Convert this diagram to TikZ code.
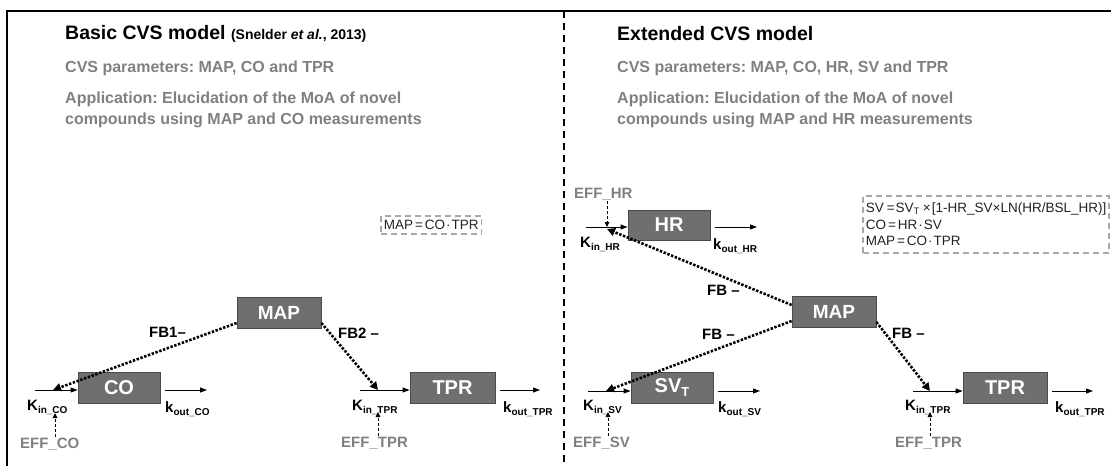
\documentclass[tikz,border=0pt]{standalone}
\usepackage{fontspec}
\setmainfont{Liberation Sans}
\usetikzlibrary{arrows.meta}
\definecolor{boxfill}{HTML}{6F6F6F}
\definecolor{boxline}{HTML}{4A4A4A}
\definecolor{softgray}{HTML}{808080}
\definecolor{framegray}{HTML}{A8A8A8}
\definecolor{eqtext}{HTML}{222222}
\newcommand{\fs}[1]{\fontsize{#1}{#1}\selectfont}
\newcommand{\lowsub}[1]{\raisebox{-3pt}{\fs{10}#1}}
\frenchspacing
\begin{document}
\begin{tikzpicture}[x=1pt,y=-1pt,
  block/.style={draw=boxline, line width=0.8pt, fill=boxfill, text=white,
    font=\bfseries\fs{20}, inner sep=0pt, minimum height=31pt},
  mapblock/.style={block, minimum width=84pt, font=\bfseries\fs{19}},
  flow/.style={-{Triangle[length=7pt,width=5pt]}, line width=0.9pt},
  fb/.style={line width=2.6pt, dash pattern=on 2.4pt off 1.6pt,
    -{Triangle[length=8pt,width=8pt]}},
  effarrow/.style={-{Triangle[length=5pt,width=4.5pt]}, line width=1pt,
    dash pattern=on 3pt off 2pt},
  lab/.style={font=\bfseries\fs{15}, inner sep=0pt, anchor=west},
  efflab/.style={lab, text=softgray},
  title/.style={font=\bfseries\fs{19.5}, inner sep=0pt, anchor=west},
  info/.style={font=\bfseries\fs{16}, text=softgray, inner sep=0pt, anchor=west},
  eqbox/.style={draw=framegray, line width=1.6pt, dash pattern=on 6pt off 4pt,
    anchor=north west, align=left, inner ysep=2pt, inner xsep=3pt, text=eqtext,
    font=\fontsize{13.5}{16.5}\selectfont}
]
\useasboundingbox (0,0) rectangle (1111,466);

% outer frame and panel divider
\draw[line width=1.4pt] (1111,11) -- (7,11) -- (7,466);
\draw[line width=1.4pt, dash pattern=on 7pt off 5pt] (564,11) -- (564,466);

% ---------------- headers ----------------
\node[title] (tL) at (65,34) {Basic CVS model {\fs{14}(Snelder \textit{et al.}, 2013)}};
\node[info] (pL) at (65,68) {CVS parameters: MAP, CO and TPR};
\node[info] (aL1) at (65,99) {Application: Elucidation of the MoA of novel};
\node[info] (aL2) at (65,120) {compounds using MAP and CO measurements};

\node[title] (tR) at (617,34) {Extended CVS model};
\node[info] (pR) at (617,68) {CVS parameters: MAP, CO, HR, SV and TPR};
\node[info] (aR1) at (617,99) {Application: Elucidation of the MoA of novel};
\node[info] (aR2) at (617,120) {compounds using MAP and HR measurements};

% ---------------- basic model ----------------
\node[eqbox, minimum height=18pt] (eqL) at (380,215) {MAP\kern2pt=\kern2ptCO\kern1pt·\kern1ptTPR};

\node[mapblock] (mapL) at (279,313) {MAP};
\node[block, minimum width=82pt] (co) at (119,388) {CO};
\node[block, minimum width=85pt] (tprL) at (452.5,388) {TPR};

% CO turnover
\coordinate (coIn) at (35,390);
\coordinate (coFB) at (53,390);
\coordinate (coOut) at (207,390);
\draw[flow] (coIn) -- (co.west |- coIn);
\draw[flow] (co.east |- coOut) ++(5,0) -- (coOut);
\node[lab] (coKin) at (27,407) {K\lowsub{in\_CO}};
\node[lab] (coKout) at (165,409) {k\lowsub{out\_CO}};
\node[efflab] (coEff) at (20,444) {EFF\_CO};
\coordinate (coEffTop) at (55,437);
\coordinate (coEffEnd) at (55,413);
\draw[effarrow] (coEffTop) -- (coEffEnd);

% TPR turnover
\coordinate (tprLIn) at (360,390);
\coordinate (tprLFB) at (378,390);
\coordinate (tprLOut) at (540,390);
\draw[flow] (tprLIn) -- (tprL.west |- tprLIn);
\draw[flow] (tprL.east |- tprLOut) ++(5,0) -- (tprLOut);
\node[lab] (tprLKin) at (352,407) {K\lowsub{in\_TPR}};
\node[lab] (tprLKout) at (503,409) {k\lowsub{out\_TPR}};
\node[efflab] (tprLEff) at (341,443) {EFF\_TPR};
\coordinate (tprLEffTop) at (378,436);
\coordinate (tprLEffEnd) at (378,412);
\draw[effarrow] (tprLEffTop) -- (tprLEffEnd);

% feedback from MAP
\draw[fb] ([yshift=-10pt]mapL.west) -- (coFB);
\draw[fb] ([yshift=-10pt]mapL.east) -- (tprLFB);
\node[lab] (fb1) at (149,332) {FB1–};
\node[lab] (fb2) at (338,333) {FB2 –};

% ---------------- extended model ----------------
\node[eqbox, text width=240pt, minimum height=57pt] (eqR) at (862,195)
  {\mbox{SV\kern3pt=\kern1ptSV\textsubscript{T}\kern3pt×\kern1pt[1-HR\_SV×LN(HR/BSL\_HR)]}\\
   CO\kern2pt=\kern2ptHR\kern1pt·\kern1ptSV\\
   MAP\kern2pt=\kern2ptCO\kern1pt·\kern1ptTPR};

\node[block, minimum width=82pt, minimum height=30pt] (hr) at (669,225) {HR};
\node[mapblock] (mapR) at (834,312) {MAP};
\node[block, minimum width=82pt] (svt) at (672,388) {SV\raisebox{-4pt}{\fs{13}T}};
\node[block, minimum width=84pt] (tprR) at (1005,388) {TPR};

% HR turnover
\coordinate (hrIn) at (586,227);
\coordinate (hrFB) at (607,229);
\coordinate (hrOut) at (757,227);
\draw[flow] (hrIn) -- (hr.west |- hrIn);
\draw[flow] (hr.east |- hrOut) ++(5,0) -- (hrOut);
\node[lab] (hrKin) at (580,244) {K\lowsub{in\_HR}};
\node[lab] (hrKout) at (713,246) {k\lowsub{out\_HR}};
\node[efflab] (hrEff) at (574,194) {EFF\_HR};
\coordinate (hrEffTop) at (607,201);
\coordinate (hrEffEnd) at (607,227);
\draw[effarrow] (hrEffTop) -- (hrEffEnd);

% SV turnover
\coordinate (svIn) at (588,391);
\coordinate (svFB) at (606,391);
\coordinate (svOut) at (760,391);
\draw[flow] (svIn) -- (svt.west |- svIn);
\draw[flow] (svt.east |- svOut) ++(5,0) -- (svOut);
\node[lab] (svKin) at (583,407) {K\lowsub{in\_SV}};
\node[lab] (svKout) at (718,409) {k\lowsub{out\_SV}};
\node[efflab] (svEff) at (573,443) {EFF\_SV};
\coordinate (svEffTop) at (608,436);
\coordinate (svEffEnd) at (608,412);
\draw[effarrow] (svEffTop) -- (svEffEnd);

% TPR turnover
\coordinate (tprRIn) at (913,391);
\coordinate (tprRFB) at (930,391);
\coordinate (tprROut) at (1093,391);
\draw[flow] (tprRIn) -- (tprR.west |- tprRIn);
\draw[flow] (tprR.east |- tprROut) ++(5,0) -- (tprROut);
\node[lab] (tprRKin) at (905,407) {K\lowsub{in\_TPR}};
\node[lab] (tprRKout) at (1055,409) {k\lowsub{out\_TPR}};
\node[efflab] (tprREff) at (895,443) {EFF\_TPR};
\coordinate (tprREffTop) at (930,436);
\coordinate (tprREffEnd) at (930,412);
\draw[effarrow] (tprREffTop) -- (tprREffEnd);

% feedback from MAP
\draw[fb] ([yshift=7pt]mapR.west) -- (hrFB);
\draw[fb] ([yshift=-9pt]mapR.west) -- (svFB);
\draw[fb] ([yshift=-10pt]mapR.east) -- (tprRFB);
\node[lab] (fbHR) at (707,290) {FB –};
\node[lab] (fbSV) at (702,334) {FB –};
\node[lab] (fbTPR) at (892,333) {FB –};
\end{tikzpicture}
\end{document}
